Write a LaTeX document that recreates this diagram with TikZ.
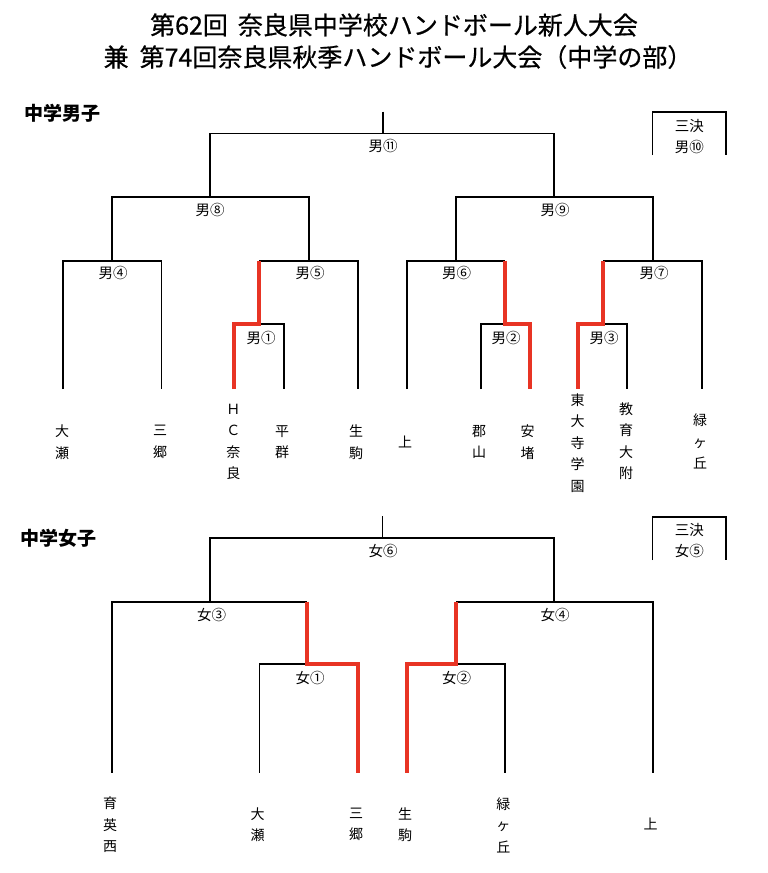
\documentclass[tikz,border=0pt]{standalone}
\usepackage{fontspec}
\setmainfont{Noto Sans CJK JP}
\newfontfamily\ttlfont[FakeBold=0.6]{Noto Sans CJK JP}
\definecolor{winred}{RGB}{232,52,36}
\begin{document}
\begin{tikzpicture}[x=1pt,y=-1pt,
  ln/.style={line width=1.6pt, black, line join=miter},
  win/.style={line width=4pt, winred, line join=miter},
  lbl/.style={font=\fontsize{14.5}{16}\selectfont, inner sep=0pt},
  team/.style={font=\fontsize{14}{21.5}\selectfont, align=center, inner sep=0pt},
  ttl/.style={font=\ttlfont\fontsize{25}{28}\selectfont, inner sep=0pt},
  hdr/.style={font=\bfseries\fontsize{19}{22}\selectfont, inner sep=0pt}]
\fill[white] (0,0) rectangle (768,873);
\useasboundingbox (0,0) rectangle (768,873);

% titles
\node[ttl] (t1) at (394,25) {第62回\hspace{10pt}奈良県中学校ハンドボール新人大会};
\node[ttl] (t2) at (398,57) {兼\hspace{11pt}第74回奈良県秋季ハンドボール大会（中学の部）};
\node[hdr,anchor=west] (hm) at (24,113) {中学男子};
\node[hdr,anchor=west] (hw) at (20,538) {中学女子};

% ===== men =====
\coordinate (mtop) at (383,111.7);
\coordinate (m11) at (383,133.3);
\draw[ln] (mtop) -- (m11);
\draw[ln] (210,196.7) |- (554,133.3) -- (554,196.7);
\draw[ln] (112,260.7) |- (308.7,196.7) -- (308.7,260.7);
\draw[ln] (456,260.7) |- (652.7,196.7) -- (652.7,260.7);
\draw[ln] (62.7,389) |- (161.3,260.7) -- (161.3,389);
\draw[ln] (259,260.7) -- (357.7,260.7) -- (357.7,389);
\draw[ln] (234,324) -- (284,324) -- (284,389);
\draw[ln] (406.7,389) |- (505,260.7);
\draw[ln] (480.7,389) |- (530,324);
\draw[ln] (603,260.7) -- (701.7,260.7) -- (701.7,389);
\draw[ln] (578,324) -- (627,324) -- (627,389);
\draw[win] (259,260.7) -- (259,324) -- (234,324) -- (234,389);
\draw[win] (505,260.7) -- (505,324) -- (530,324) -- (530,389);
\draw[win] (603,260.7) -- (603,324) -- (578,324) -- (578,389);
% third place box
\draw[ln] (652.3,155) |- (726,111.7) -- (726,155);
\node[lbl] (mb1) at (689.3,125.7) {三決};
\node[lbl] (mb2) at (689.3,146.7) {男⑩};

\node[lbl] (mm11) at (383,145.5) {男⑪};
\node[lbl] (mm8) at (210,210) {男⑧};
\node[lbl] (mm9) at (555,210) {男⑨};
\node[lbl] (mm4) at (113,273) {男④};
\node[lbl] (mm5) at (310,273) {男⑤};
\node[lbl] (mm6) at (456.7,273) {男⑥};
\node[lbl] (mm7) at (654,273) {男⑦};
\node[lbl] (mm1) at (261,337.5) {男①};
\node[lbl] (mm2) at (506,337.5) {男②};
\node[lbl] (mm3) at (604,337.5) {男③};

\node[team] (n1) at (62,442) {大\\瀬};
\node[team] (n2) at (160,442) {三\\郷};
\node[team] (n3) at (233.3,442) {Ｈ\\Ｃ\\奈\\良};
\node[team] (n4) at (282,442) {平\\群};
\node[team] (n5) at (356,442) {生\\駒};
\node[team] (n6) at (405,442) {上};
\node[team] (n7) at (479,442) {郡\\山};
\node[team] (n8) at (527.7,442) {安\\堵};
\node[team] (n9) at (577.7,443) {東\\大\\寺\\学\\園};
\node[team] (n10) at (626,441) {教\\育\\大\\附};
\node[team] (n11) at (700,441.5) {緑\\ヶ\\丘};

% ===== women =====
\coordinate (wtop) at (382.3,516);
\coordinate (w6) at (382.3,537.7);
\draw[ln] (wtop) -- (w6);
\draw[ln] (210,601.7) |- (554,537.7) -- (554,601.7);
\draw[ln] (112,772.7) |- (306.7,601.7);
\draw[ln] (259.3,772.7) |- (357.7,664);
\draw[ln] (456,601.7) -- (652.7,601.7) -- (652.7,772.7);
\draw[ln] (406.7,664) -- (505,664) -- (505,772.7);
\draw[win] (306.7,601.7) -- (306.7,664) -- (357.7,664) -- (357.7,772.7);
\draw[win] (456,601.7) -- (456,664) -- (406.7,664) -- (406.7,772.7);
\draw[ln] (652.3,560) |- (726,516.7) -- (726,560);
\node[lbl] (wb1) at (689.3,530) {三決};
\node[lbl] (wb2) at (689.3,550.7) {女⑤};

\node[lbl] (ww6) at (383,550.7) {女⑥};
\node[lbl] (ww3) at (211.7,615) {女③};
\node[lbl] (ww4) at (555,615) {女④};
\node[lbl] (ww1) at (310,678.3) {女①};
\node[lbl] (ww2) at (456.7,678.3) {女②};

\node[team] (f1) at (110,825) {育\\英\\西};
\node[team] (f2) at (257.7,824.5) {大\\瀬};
\node[team] (f3) at (356,824.5) {三\\郷};
\node[team] (f4) at (405,824.5) {生\\駒};
\node[team] (f5) at (503.3,825) {緑\\ヶ\\丘};
\node[team] (f6) at (650.7,824.3) {上};
\end{tikzpicture}
\end{document}
